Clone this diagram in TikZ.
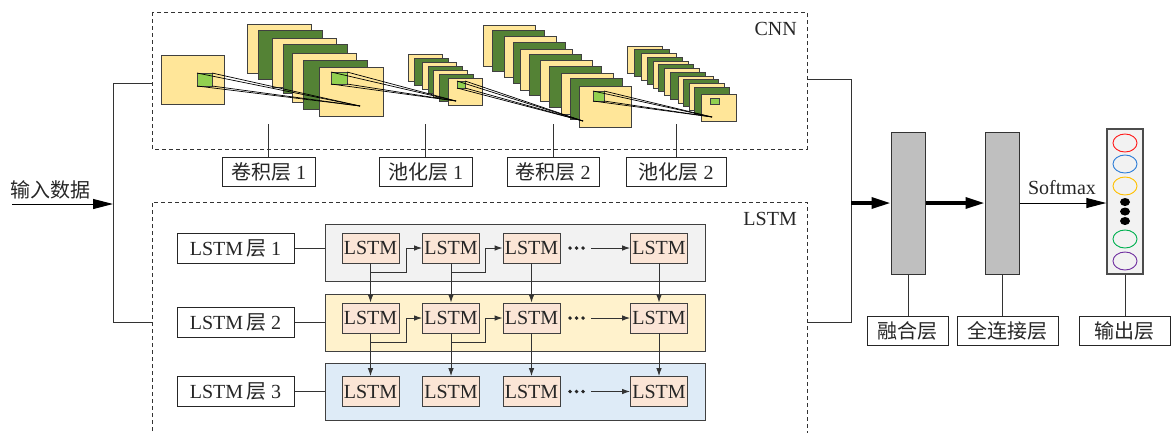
\documentclass[tikz,border=0pt]{standalone}
\usepackage{fontspec}
\setmainfont{Liberation Serif}
\newfontfamily\cjk{Noto Sans CJK SC}
\usetikzlibrary{arrows.meta}
\definecolor{fy}{HTML}{FFE699}
\definecolor{fg}{HTML}{548235}
\definecolor{fp}{HTML}{92D050}
\definecolor{cellc}{HTML}{FBE5D6}
\definecolor{pA}{HTML}{F2F2F2}
\definecolor{pB}{HTML}{FFF2CC}
\definecolor{pC}{HTML}{DEEBF7}
\definecolor{gbox}{HTML}{BFBFBF}
\definecolor{oRed}{HTML}{FF1A1A}
\definecolor{oBlue}{HTML}{2E7DD6}
\definecolor{oGold}{HTML}{FFC000}
\definecolor{oGreen}{HTML}{00B050}
\definecolor{oPurple}{HTML}{7030A0}
\newcommand\fmap[5]{\filldraw[fill=#5,draw=black!75,line width=0.8pt] (#1,#2) rectangle ++(#3,#4);}
\begin{document}
\begin{tikzpicture}[x=1pt,y=-1pt,
 every node/.style={font=\fontsize{20}{24}\selectfont,text=black!85,inner sep=0pt},
 dashbox/.style={draw=black!80,dash pattern=on 4pt off 3pt,line width=0.8pt},
 lbl/.style={draw=black!85,line width=1pt,fill=white,minimum height=29pt},
 conn/.style={draw=black!80,line width=0.9pt},
 cell/.style={draw=black!75,fill=cellc,line width=0.8pt,minimum width=57pt,minimum height=30pt},
 panel/.style={draw=black!75,line width=1pt,minimum width=380pt,minimum height=57pt},
 arr/.style={conn,-{Latex[length=8pt,width=5.5pt]}},
 bigarr/.style={draw=black,line width=1pt,-{Triangle[length=20pt,width=10pt]}},
 thickarr/.style={draw=black,line width=3.5pt,-{Triangle[length=19pt,width=11pt]}},
 graybox/.style={draw=black!80,fill=gbox,line width=1pt,minimum width=34pt,minimum height=142pt},
 plink/.style={draw=black,line width=0.7pt}
]
\useasboundingbox (0,0) rectangle (1171,432);

% dashed group boxes
\draw[dashbox] (152,12) rectangle (807,149);
\draw[dashbox] (152,445) -- (152,202) -- (807,202) -- (807,445);
\node[anchor=east] (cnnT) at (797,29) {CNN};
\node[anchor=east] (lstmT) at (797,219) {LSTM};

% ---------- CNN feature maps ----------
\fmap{161}{55}{63}{49}{fy}
\foreach \x/\y/\c in {247/24/fy,258/30/fg,272/38/fy,283/44/fg,292/53/fy,303/60/fg,319/67/fy}
  {\fmap{\x}{\y}{64}{49}{\c}}
\foreach \x/\y/\c in {408/54/fy,414/58/fg,422/62/fy,428/66/fg,433/70/fy,439/74/fg,448/78/fy}
  {\fmap{\x}{\y}{34}{27}{\c}}
\foreach \x/\y/\c in {483/25/fy,492/30/fg,504/36/fy,513/42/fg,520/49/fy,529/54/fg,540/60/fy,549/66/fg,561/73/fy,570/78/fg,579/86/fy}
  {\fmap{\x}{\y}{52}{41}{\c}}
\foreach \x/\y/\c in {627/46/fy,634/49/fg,641/53/fy,647/57/fg,653/61/fy,658/64/fg,664/68/fy,670/72/fg,678/76/fy,683/79/fg,689/83/fy,694/87/fg,701/94/fy}
  {\fmap{\x}{\y}{35}{27}{\c}}
% patches
\fmap{197}{73}{15}{13}{fp}
\fmap{331}{72}{16}{12}{fp}
\fmap{457}{81}{8}{7}{fp}
\fmap{593}{91}{11}{10}{fp}
\fmap{710}{98}{9}{6}{fp}
% projection lines
\foreach \px/\py in {197/73,212/73,197/86,212/86} \draw[plink] (\px,\py) -- (360,106);
\foreach \px/\py in {331/72,347/72,331/84,347/84} \draw[plink] (\px,\py) -- (456,101);
\foreach \px/\py in {457/81,465/81,457/88,465/88} \draw[plink] (\px,\py) -- (583,121);
\foreach \px/\py in {593/91,604/91,593/101,604/101} \draw[plink] (\px,\py) -- (712,117);

% CNN labels
\node[lbl,minimum width=93pt] (k1) at (268.5,172) {{\cjk 卷积层} 1};
\node[lbl,minimum width=93pt] (q1) at (425.5,172) {{\cjk 池化层} 1};
\node[lbl,minimum width=92pt] (k2) at (553,172) {{\cjk 卷积层} 2};
\node[lbl,minimum width=100pt] (q2) at (676,172) {{\cjk 池化层} 2};
\foreach \n in {k1,q1,k2,q2} \draw[conn] (\n.north) -- ++(0,-33);

% ---------- input ----------
\node (inT) at (50,190) {\cjk 输入数据};
\coordinate (inS) at (12,204);
\coordinate (inJ) at (113,204);
\coordinate (cnnL) at (152,83);
\coordinate (lstmL) at (152,322);
\draw[bigarr] (inS) -- (inJ);
\draw[conn] (cnnL) -- (cnnL -| inJ) -- (lstmL -| inJ) -- (lstmL);

% ---------- LSTM ----------
\node[panel,fill=pA] (p1) at (515,252.5) {};
\node[panel,fill=pB] (p2) at (515,322.5) {};
\node[panel,fill=pC] (p3) at (515,391.5) {};
\node[lbl,minimum width=117pt,minimum height=30pt] (l1) at (235.5,248) {LSTM\hspace{3pt}{\cjk 层} 1};
\node[lbl,minimum width=117pt,minimum height=30pt] (l2) at (235.5,322) {LSTM\hspace{3pt}{\cjk 层} 2};
\node[lbl,minimum width=117pt,minimum height=30pt] (l3) at (235.5,391.5) {LSTM\hspace{3pt}{\cjk 层} 3};
\foreach \i in {1,2,3} \draw[conn] (l\i.east) -- (l\i.east -| p\i.west);

\foreach \r/\y in {1/248,2/318,3/391.5} {
  \foreach \c/\x in {1/370.5,2/451,3/531.5,4/659}
    {\node[cell] (c\r\c) at (\x,\y) {LSTM};}
  \fill[black!85] (c\r4.west) ++(-60,0) circle (1.9) ++(6.5,0) circle (1.9) ++(6.5,0) circle (1.9);
  \path (c\r4.west) ++(-39,0) coordinate (d\r);
  \draw[arr] (d\r) -- (c\r4.west);
}
\foreach \c in {1,2,3,4} {
  \draw[arr] (c1\c) -- (c2\c);
  \draw[arr] (c2\c) -- (c3\c);
}
\foreach \r in {1,2} {
  \draw[arr] (c\r1.south) ++(0,9) -- ++(36,0) |- (c\r2.west);
  \draw[arr] (c\r2.south) ++(0,9) -- ++(34,0) |- (c\r3.west);
}

% ---------- right part ----------
\coordinate (rt) at (807,79);
\coordinate (rb) at (807,322);
\coordinate (mj) at (851,203);
\draw[conn] (rt) -- (rt -| mj) -- (rb -| mj) -- (rb);
\node[graybox] (fuse) at (908,203) {};
\node[graybox] (fc) at (1002,203) {};
\node[draw=black!70,fill=pA,line width=1.5pt,minimum width=36pt,minimum height=145pt] (out) at (1125,201.5) {};
\draw[thickarr] (mj) -- (fuse.west);
\draw[thickarr] (fuse.east) -- (fc.west);
\draw[bigarr] (fc.east) -- (out.west |- fc.east);
\node (smx) at (1062,188) {Softmax};

\foreach \y/\c in {143/oRed,164/oBlue,186/oGold,239/oGreen,261/oPurple}
  \draw[\c,line width=0.9pt] (1125,\y) ellipse [x radius=12, y radius=9];
\foreach \y in {202,211.5,221}
  \fill[black] (1125,\y) ellipse [x radius=5, y radius=4];

\node[lbl,minimum width=81pt] (fuseL) at (907.5,330.5) {\cjk 融合层};
\node[lbl,minimum width=101pt] (fcL) at (1007.5,330.5) {\cjk 全连接层};
\node[lbl,minimum width=91pt] (outL) at (1124.5,330.5) {\cjk 输出层};
\draw[conn] (fuse.south) -- (fuse.south |- fuseL.north);
\draw[conn] (fc.south) -- (fc.south |- fcL.north);
\draw[conn] (out.south) -- (out.south |- outL.north);
\end{tikzpicture}
\end{document}
